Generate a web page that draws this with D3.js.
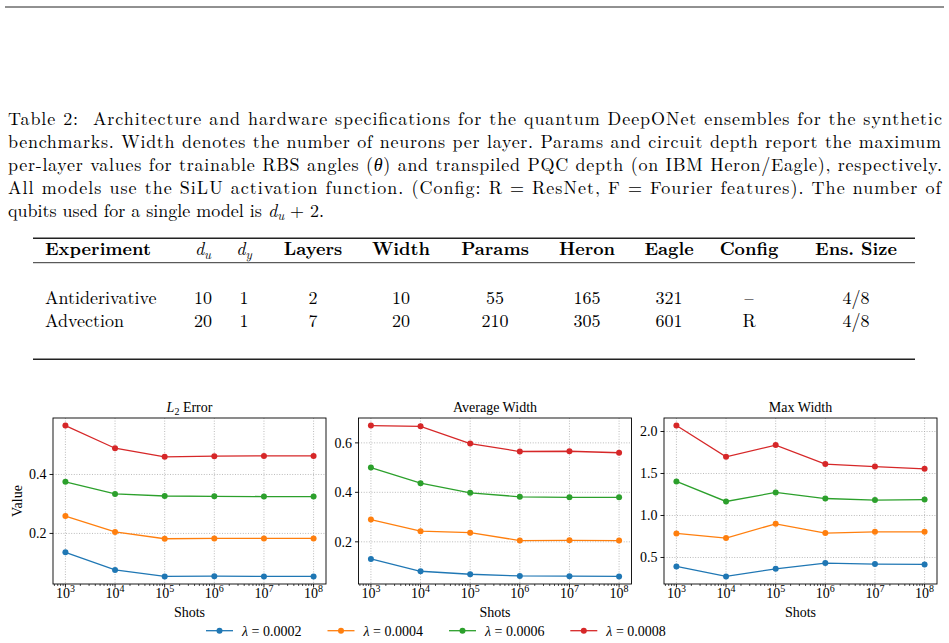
<!DOCTYPE html>
<html>
<head>
<meta charset="utf-8">
<script src="https://cdn.jsdelivr.net/npm/d3@7"></script>
<style>
	body { margin: 0; background: #fff; }
	svg { display: block; }
	text { font-family: "Liberation Serif", "Times New Roman", serif; fill: #000; }
	.caption text, .table text { font-family: "Latin Modern Roman", "Liberation Serif", serif; }
	.caption tspan.greek { font-family: "Liberation Serif", serif; }
</style>
</head>
<body>
<svg width="949" height="643"></svg>
<script>
// ---- table data ----
let tableHeader = ["Experiment", "d_u", "d_y", "Layers", "Width", "Params", "Heron", "Eagle", "Config", "Ens. Size"];
let tableRows = [
	["Antiderivative", "10", "1", "2", "10", "55", "165", "321", "\u2013", "4/8"],
	["Advection", "20", "1", "7", "20", "210", "305", "601", "R", "4/8"]
];

// ---- chart data ----
let shots = [1e3, 1e4, 1e5, 1e6, 1e7, 1e8];
let lambdas = ["0.0002", "0.0004", "0.0006", "0.0008"];
let colors = ["#1f77b4", "#ff7f0e", "#2ca02c", "#d62728"];
let l2Error = [
	[0.136, 0.076, 0.054, 0.055, 0.054, 0.054],
	[0.259, 0.205, 0.182, 0.183, 0.183, 0.183],
	[0.375, 0.334, 0.327, 0.326, 0.325, 0.325],
	[0.566, 0.489, 0.460, 0.462, 0.463, 0.463]
];
let avgWidth = [
	[0.131, 0.081, 0.069, 0.062, 0.061, 0.060],
	[0.290, 0.243, 0.237, 0.205, 0.206, 0.205],
	[0.500, 0.437, 0.398, 0.382, 0.380, 0.380],
	[0.670, 0.667, 0.597, 0.565, 0.566, 0.560]
];
let maxWidth = [
	[0.393, 0.274, 0.365, 0.433, 0.421, 0.417],
	[0.786, 0.731, 0.901, 0.790, 0.805, 0.805],
	[1.405, 1.167, 1.274, 1.202, 1.183, 1.190],
	[2.071, 1.699, 1.838, 1.612, 1.583, 1.556]
];
let l2Ticks = [0.2, 0.4];
let avgTicks = [0.2, 0.4, 0.6];
let maxTicks = [0.5, 1.0, 1.5, 2.0];

let svg = d3.select("svg");

// top page rule
svg.append("line").attr("x1", 5).attr("x2", 944).attr("y1", 7).attr("y2", 7)
	.attr("stroke", "#222").attr("stroke-width", 1);

// ---- caption ----
let caption = [
	{ y: 125, w: 934, parts: [["Table 2:  Architecture and hardware specifications for the quantum DeepONet ensembles for the synthetic"]] },
	{ y: 148, w: 933, parts: [["benchmarks. Width denotes the number of neurons per layer. Params and circuit depth report the maximum"]] },
	{ y: 171, w: 934, parts: [["per-layer values for trainable RBS angles ("], ["\u03b8", "g"], [") and transpiled PQC depth (on IBM Heron/Eagle), respectively."]] },
	{ y: 194, w: 933, parts: [["All models use the SiLU activation function. (Config: R = ResNet, F = Fourier features). The number of"]] },
	{ y: 216.5, w: 0, parts: [["qubits used for a single model is "], ["d", "i"], ["u", "sub"], [" + 2.", "up"]] }
];
let gcap = svg.append("g").attr("class", "caption");
caption.forEach(line => {
	let t = gcap.append("text").attr("x", 8).attr("y", line.y)
		.attr("font-size", 18)
		.style("white-space", "pre");
	if (line.w) t.attr("textLength", line.w).attr("lengthAdjust", "spacing");
	line.parts.forEach(p => {
		let s = t.append("tspan").text(p[0]);
		if (p[1] == "i") s.attr("font-style", "italic");
		if (p[1] == "g") s.attr("class", "greek").attr("font-style", "italic");
		if (p[1] == "sub") s.attr("font-style", "italic").attr("font-size", 13).attr("dy", 3.5);
		if (p[1] == "up") s.attr("dy", -3.5);
	});
});

// ---- table ----
let gtab = svg.append("g").attr("class", "table");
let colX = [45, 203, 244, 313, 401, 495, 587, 669, 749, 856];
let tabLeft = 33, tabRight = 915;
gtab.append("line").attr("x1", tabLeft).attr("x2", tabRight).attr("y1", 238.3).attr("y2", 238.3)
	.attr("stroke", "#222").attr("stroke-width", 1.4);
gtab.append("line").attr("x1", tabLeft).attr("x2", tabRight).attr("y1", 262.7).attr("y2", 262.7)
	.attr("stroke", "#333").attr("stroke-width", 1);
gtab.append("line").attr("x1", tabLeft).attr("x2", tabRight).attr("y1", 359.3).attr("y2", 359.3)
	.attr("stroke", "#222").attr("stroke-width", 1.4);

let cellText = (g, x, y, str, i, bold) => {
	let t = g.append("text").attr("x", x).attr("y", y).attr("font-size", 18)
		.attr("text-anchor", i == 0 ? "start" : "middle");
	if (bold) t.attr("font-weight", "bold");
	let m = str.match(/^d_(\w)$/);
	if (m) {
		t.attr("font-weight", "normal");
		t.append("tspan").attr("font-style", "italic").text("d");
		t.append("tspan").attr("font-style", "italic").attr("font-size", 13).attr("dy", 4).text(m[1]);
	} else {
		t.text(str);
	}
};
tableHeader.forEach((h, i) => cellText(gtab, colX[i], 255, h, i, true));
tableRows.forEach((row, r) => {
	row.forEach((c, i) => cellText(gtab, colX[i], r == 0 ? 304 : 327, c, i, false));
});

// ---- charts ----
let plotTop = 418, plotBottom = 584, pw = 273;
let panels = [
	{ left: 53, data: l2Error, ticks: l2Ticks, title: "l2" },
	{ left: 358.5, data: avgWidth, ticks: avgTicks, title: "Average Width" },
	{ left: 664, data: maxWidth, ticks: maxTicks, title: "Max Width" }
];

let xDomain = [Math.pow(10, 2.75), Math.pow(10, 8.25)];
let minor = [];
for (let d = 2; d <= 8; d++) {
	for (let k = 2; k <= 9; k++) {
		let v = k * Math.pow(10, d);
		if (v >= xDomain[0] && v <= xDomain[1]) minor.push(v);
	}
}

panels.forEach((p, pi) => {
	let g = svg.append("g").attr("class", "panel" + pi);
	let x = d3.scaleLog().domain(xDomain).range([p.left, p.left + pw]);
	let all = p.data.flat();
	let lo = d3.min(all), hi = d3.max(all), pad = (hi - lo) * 0.05;
	let y = d3.scaleLinear().domain([lo - pad, hi + pad]).range([plotBottom, plotTop]);

	// grid
	g.append("g").selectAll("line").data(shots).enter().append("line")
		.attr("x1", d => x(d)).attr("x2", d => x(d)).attr("y1", plotTop).attr("y2", plotBottom)
		.attr("stroke", "#aaa").attr("stroke-width", 0.8).attr("stroke-dasharray", "1,1.6");
	g.append("g").selectAll("line").data(p.ticks).enter().append("line")
		.attr("x1", p.left).attr("x2", p.left + pw).attr("y1", d => y(d)).attr("y2", d => y(d))
		.attr("stroke", "#aaa").attr("stroke-width", 0.8).attr("stroke-dasharray", "1,1.6");

	// series
	p.data.forEach((s, si) => {
		let pts = s.map((v, i) => [x(shots[i]), y(v)]);
		g.append("path").attr("d", d3.line()(pts)).attr("fill", "none")
			.attr("stroke", colors[si]).attr("stroke-width", 1.3);
		g.append("g").selectAll("circle").data(pts).enter().append("circle")
			.attr("cx", d => d[0]).attr("cy", d => d[1]).attr("r", 3)
			.attr("fill", colors[si]);
	});

	// spines
	g.append("rect").attr("x", p.left).attr("y", plotTop).attr("width", pw).attr("height", plotBottom - plotTop)
		.attr("fill", "none").attr("stroke", "#000").attr("stroke-width", 0.9);

	// x ticks
	g.append("g").selectAll("line").data(shots).enter().append("line")
		.attr("x1", d => x(d)).attr("x2", d => x(d)).attr("y1", plotBottom).attr("y2", plotBottom + 3.5)
		.attr("stroke", "#000").attr("stroke-width", 0.9);
	g.append("g").selectAll("line").data(minor).enter().append("line")
		.attr("x1", d => x(d)).attr("x2", d => x(d)).attr("y1", plotBottom).attr("y2", plotBottom + 2)
		.attr("stroke", "#000").attr("stroke-width", 0.7);
	let xl = g.append("g").selectAll("text").data(shots).enter().append("text")
		.attr("x", d => x(d)).attr("y", 597.5).attr("font-size", 14).attr("text-anchor", "middle");
	xl.append("tspan").text("10");
	xl.append("tspan").attr("font-size", 10).attr("dy", -6).text(d => Math.round(Math.log10(d)));

	// y ticks
	g.append("g").selectAll("line").data(p.ticks).enter().append("line")
		.attr("x1", p.left - 3.5).attr("x2", p.left).attr("y1", d => y(d)).attr("y2", d => y(d))
		.attr("stroke", "#000").attr("stroke-width", 0.9);
	g.append("g").selectAll("text").data(p.ticks).enter().append("text")
		.attr("x", p.left - 6.5).attr("y", d => y(d)).attr("dy", "0.35em")
		.attr("font-size", 14).attr("text-anchor", "end").text(d => d.toFixed(1));

	// title
	let tt = g.append("text").attr("x", p.left + pw / 2).attr("y", 412).attr("font-size", 14)
		.attr("text-anchor", "middle");
	if (p.title == "l2") {
		tt.append("tspan").attr("font-style", "italic").text("L");
		tt.append("tspan").attr("font-size", 10).attr("dy", 3).text("2");
		tt.append("tspan").attr("dy", -3).text(" Error");
	} else {
		tt.text(p.title);
	}

	g.append("text").attr("x", p.left + pw / 2).attr("y", 616.5).attr("font-size", 14)
		.attr("text-anchor", "middle").text("Shots");
});

svg.append("text").attr("transform", "translate(22,501) rotate(-90)").attr("font-size", 14)
	.attr("text-anchor", "middle").text("Value");

// ---- legend ----
let legX = [206, 327.5, 449, 570.3];
let leg = svg.append("g").attr("class", "legend");
lambdas.forEach((l, i) => {
	let lx = legX[i], ly = 630.7;
	leg.append("line").attr("x1", lx).attr("x2", lx + 27).attr("y1", ly).attr("y2", ly)
		.attr("stroke", colors[i]).attr("stroke-width", 1.3);
	leg.append("circle").attr("cx", lx + 13.5).attr("cy", ly).attr("r", 3).attr("fill", colors[i]);
	let t = leg.append("text").attr("x", lx + 36).attr("y", ly).attr("dy", "0.35em").attr("font-size", 14);
	t.append("tspan").attr("font-style", "italic").text("\u03bb");
	t.append("tspan").text(" = " + l);
});
</script>
</body>
</html>
